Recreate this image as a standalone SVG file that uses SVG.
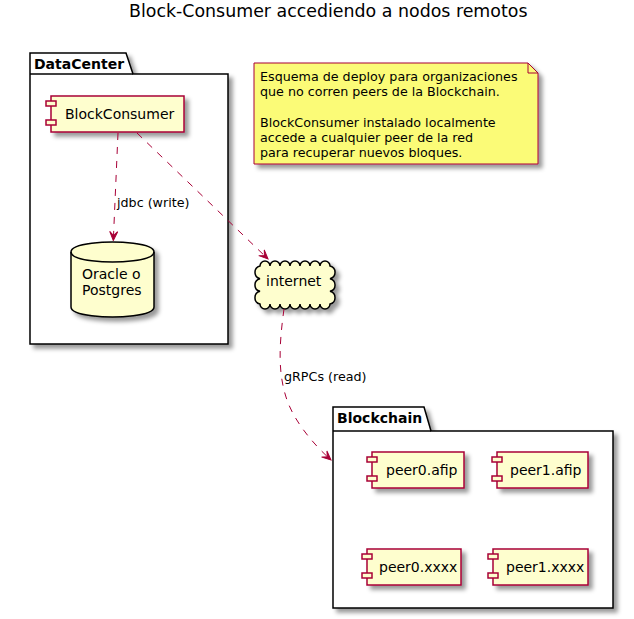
<svg xmlns="http://www.w3.org/2000/svg" width="634" height="619" viewBox="0 0 634 619">
<defs>
<filter id="sh" x="-1" y="-1" width="300%" height="300%">
<feGaussianBlur result="b1" stdDeviation="2"/>
<feColorMatrix in="b1" result="b2" type="matrix" values="0 0 0 0 0 0 0 0 0 0 0 0 0 0 0 0 0 0 .4 0"/>
<feOffset dx="4" dy="4" in="b2" result="b3"/>
<feBlend in="SourceGraphic" in2="b3" mode="normal"/>
</filter>
<marker id="ah" viewBox="-10 -5 11 10" refX="0" refY="0" markerWidth="11" markerHeight="10" markerUnits="userSpaceOnUse" orient="auto">
<path d="M0,0 L-9,-4 L-5,0 L-9,4 Z" fill="#A80036" stroke="#A80036" stroke-width="1"/>
</marker>
</defs>
<style>
text{font-family:"DejaVu Sans","Liberation Sans",sans-serif;fill:#000}
.t14{font-size:14px}
.t13{font-size:12.7px}
.pkg{fill:#fff;stroke:#000;stroke-width:1.5}
.pkgt{font-size:14px;font-weight:bold}
.comp{fill:#FEFECE;stroke:#A80036;stroke-width:1.5}
.cbar{fill:#FEFECE;stroke:#A80036;stroke-width:1.5}
.edge{fill:none;stroke:#A80036;stroke-width:1;stroke-dasharray:7,7}
</style>
<text x="129" y="17" style="font-size:17.4px">Block-Consumer accediendo a nodos remotos</text>

<g id="DataCenter">
<path class="pkg" filter="url(#sh)" d="M30,53 L126,53 L133,74 L228,74 L228,344 L30,344 Z"/>
<line x1="30" y1="74" x2="133" y2="74" stroke="#000" stroke-width="1.5"/>
<text class="pkgt" x="34" y="68.5">DataCenter</text>
</g>

<g id="Blockchain">
<path class="pkg" filter="url(#sh)" d="M333,407 L424,407 L431,431 L613,431 L613,608 L333,608 Z"/>
<line x1="333" y1="431" x2="431" y2="431" stroke="#000" stroke-width="1.5"/>
<text class="pkgt" x="337" y="423">Blockchain</text>
</g>

<g id="BlockConsumer">
<rect class="comp" filter="url(#sh)" x="51" y="96" width="133" height="36"/>
<rect class="cbar" x="46" y="101" width="10" height="5"/>
<rect class="cbar" x="46" y="120" width="10" height="5"/>
<text class="t14" x="65" y="119">BlockConsumer</text>
</g>

<g id="db">
<path filter="url(#sh)" d="M71,252 C71,242 112.5,242 112.5,242 C112.5,242 154,242 154,252 L154,307 C154,317 112.5,317 112.5,317 C112.5,317 71,317 71,307 Z" fill="#FEFECE" stroke="#000" stroke-width="1.5"/>
<path d="M71,252 C71,262 112.5,262 112.5,262 C112.5,262 154,262 154,252" fill="none" stroke="#000" stroke-width="1.5"/>
<text class="t14" x="82" y="279.3">Oracle o</text>
<text class="t14" x="82" y="295.3">Postgres</text>
</g>

<g id="note">
<path filter="url(#sh)" d="M254,63 L528,63 L538,73 L538,164 L254,164 Z" fill="#FBFB77" stroke="#A80036" stroke-width="1"/>
<path d="M528,63 L528,73 L538,73" fill="none" stroke="#A80036" stroke-width="1"/>
<text class="t13" x="260" y="81.3">Esquema de deploy para organizaciones</text>
<text class="t13" x="260" y="96.4">que no corren peers de la Blockchain.</text>
<text class="t13" x="260" y="126.6">BlockConsumer instalado localmente</text>
<text class="t13" x="260" y="141.7">accede a cualquier peer de la red</text>
<text class="t13" x="260" y="156.8">para recuperar nuevos bloques.</text>
</g>

<g id="internet">
<path filter="url(#sh)" fill="#FEFECE" stroke="#000" stroke-width="1.5" d="M260,266 a5,5 0 0 1 10,0 a5,5 0 0 1 10,0 a5,5 0 0 1 10,0 a5,5 0 0 1 10,0 a5,5 0 0 1 10,0 a5,5 0 0 1 10,0 a5,5 0 0 1 10,0 a6.5,6.5 0 0 1 0,12.67 a6.5,6.5 0 0 1 0,12.67 a6.5,6.5 0 0 1 0,12.66 a5,5 0 0 1 -10,0 a5,5 0 0 1 -10,0 a5,5 0 0 1 -10,0 a5,5 0 0 1 -10,0 a5,5 0 0 1 -10,0 a5,5 0 0 1 -10,0 a5,5 0 0 1 -10,0 a6.5,6.5 0 0 1 0,-12.67 a6.5,6.5 0 0 1 0,-12.67 a6.5,6.5 0 0 1 0,-12.66 Z"/>
<text class="t14" x="266" y="285.5">internet</text>
</g>

<g id="peer0_afip">
<rect class="comp" filter="url(#sh)" x="372" y="452" width="92" height="36"/>
<rect class="cbar" x="367" y="457" width="10" height="5"/>
<rect class="cbar" x="367" y="476" width="10" height="5"/>
<text class="t14" x="386" y="475">peer0.afip</text>
</g>
<g id="peer1_afip">
<rect class="comp" filter="url(#sh)" x="497" y="452" width="91" height="36"/>
<rect class="cbar" x="492" y="457" width="10" height="5"/>
<rect class="cbar" x="492" y="476" width="10" height="5"/>
<text class="t14" x="510" y="475">peer1.afip</text>
</g>
<g id="peer0_xxxx">
<rect class="comp" filter="url(#sh)" x="367" y="549" width="94" height="36"/>
<rect class="cbar" x="362" y="554" width="10" height="5"/>
<rect class="cbar" x="362" y="573" width="10" height="5"/>
<text class="t14" x="379" y="572">peer0.xxxx</text>
</g>
<g id="peer1_xxxx">
<rect class="comp" filter="url(#sh)" x="493" y="549" width="95" height="36"/>
<rect class="cbar" x="488" y="554" width="10" height="5"/>
<rect class="cbar" x="488" y="573" width="10" height="5"/>
<text class="t14" x="506" y="572">peer1.xxxx</text>
</g>

<g id="connectors">
<path class="edge" d="M118,133 L113.3,240.5" marker-end="url(#ah)"/>
<text class="t13" x="117" y="207">jdbc (write)</text>
<path class="edge" d="M137,133 L268,259" marker-end="url(#ah)"/>
<path class="edge" d="M284,309 C279,345 278,372 286,397 C293,420 313,444 331,460" marker-end="url(#ah)"/>
<text class="t13" x="284" y="381">gRPCs (read)</text>
</g>
</svg>
